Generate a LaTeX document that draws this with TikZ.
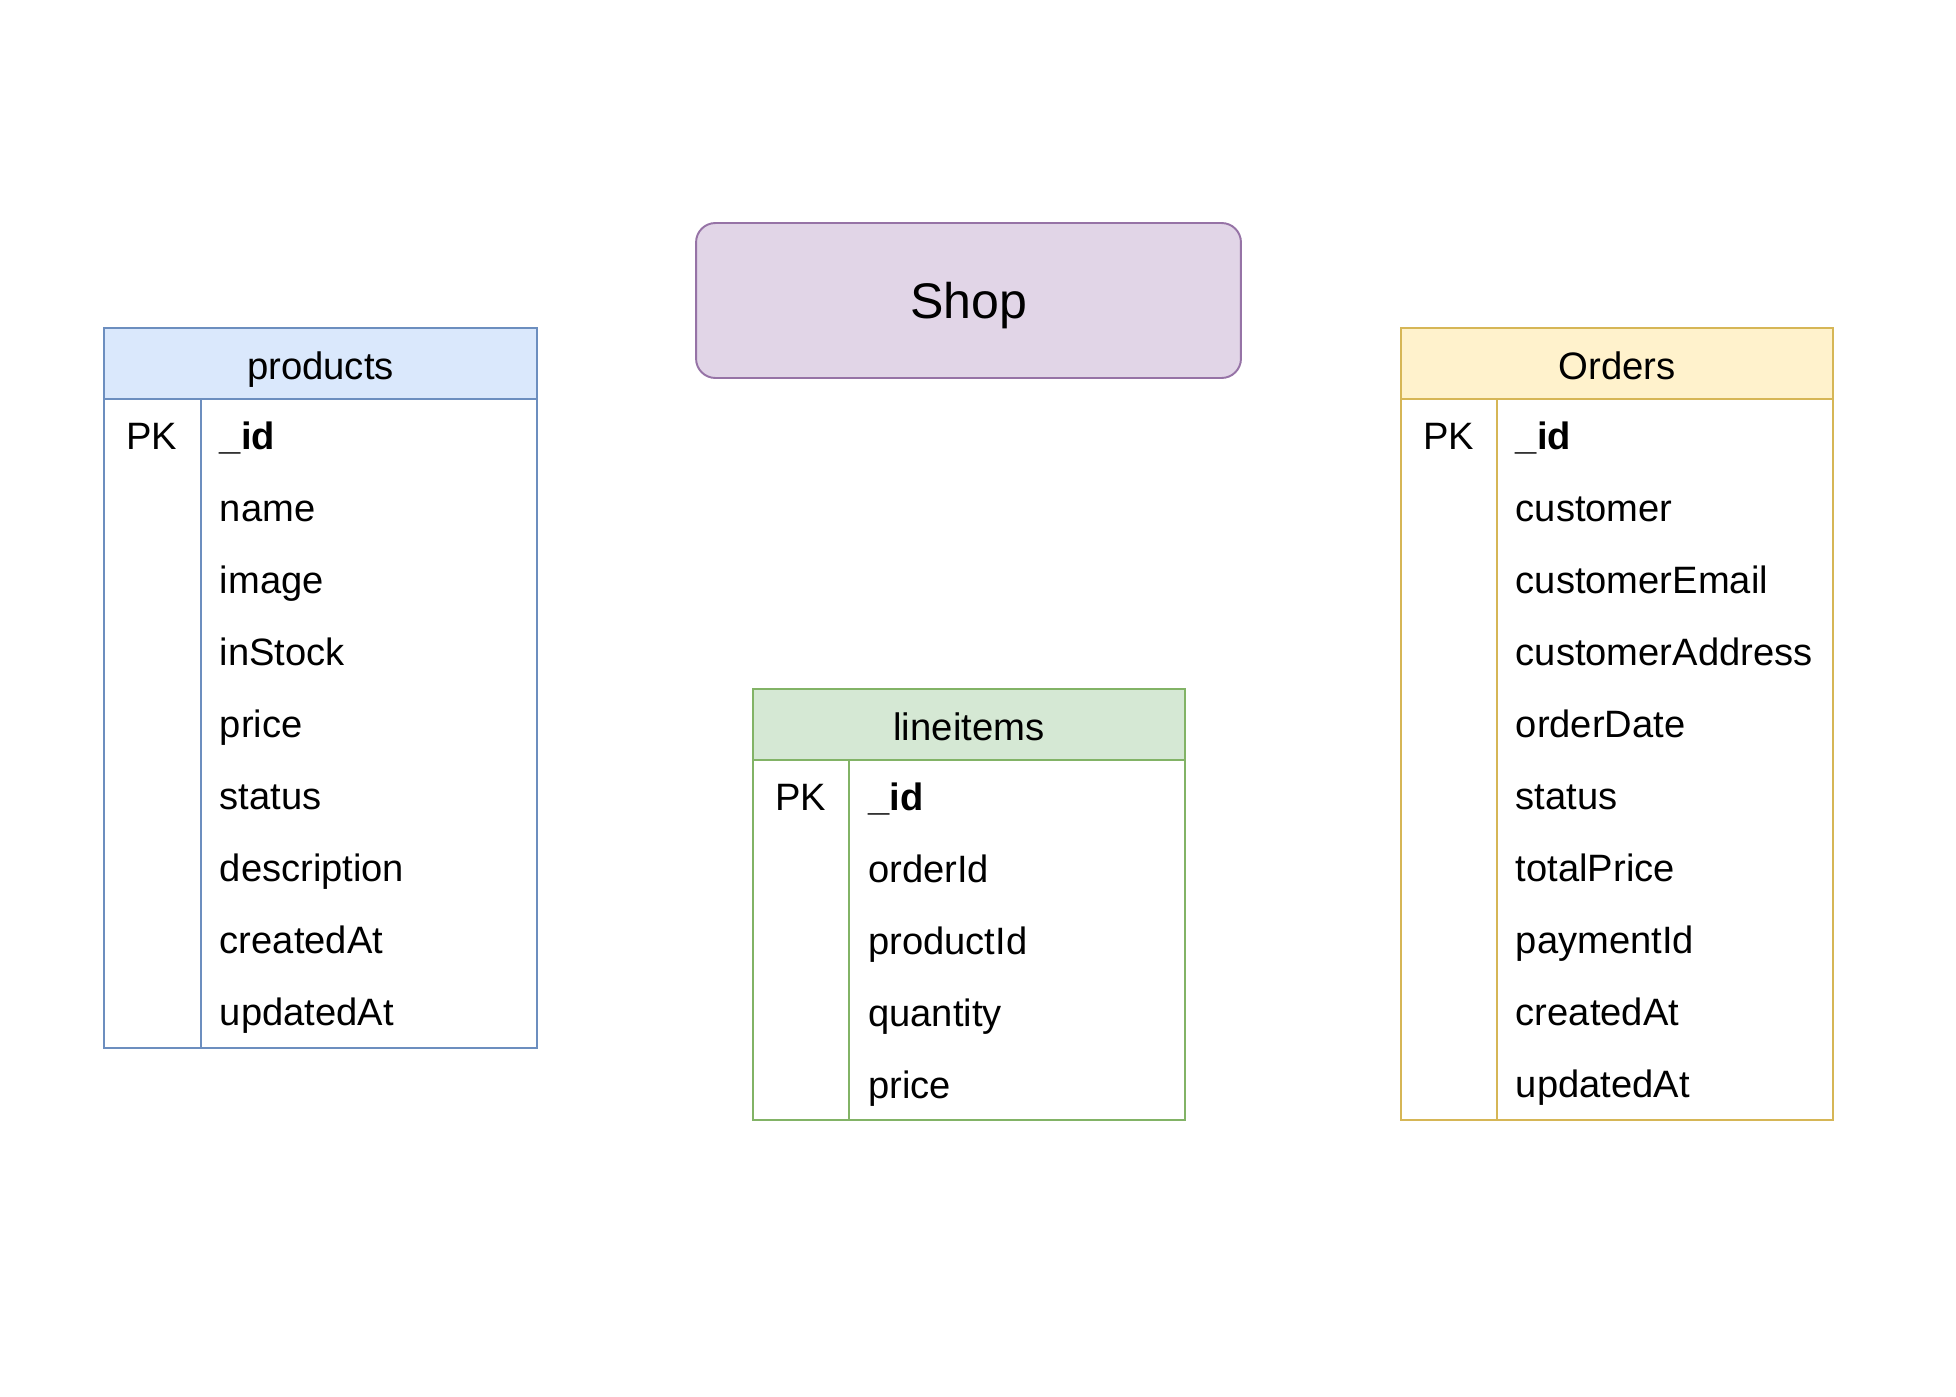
\documentclass[tikz,border=0pt]{standalone}
\usepackage{fontspec}
\setmainfont{Liberation Sans}
\usepackage{xcolor}
\usetikzlibrary{positioning}

\definecolor{prodFill}{HTML}{DAE8FC}
\definecolor{prodLine}{HTML}{6C8EBF}
\definecolor{itemFill}{HTML}{D5E8D4}
\definecolor{itemLine}{HTML}{82B366}
\definecolor{ordFill}{HTML}{FFF2CC}
\definecolor{ordLine}{HTML}{D6B656}
\definecolor{shopFill}{HTML}{E1D5E7}
\definecolor{shopLine}{HTML}{9673A6}

\tikzset{
  hdr/.style={draw, line width=1.1pt, inner sep=0pt, outer sep=0pt, anchor=north west,
    font=\fontsize{21.8}{26}\selectfont, text height=18pt, text depth=0pt},
  tblbody/.style={draw, line width=1.1pt, inner sep=0pt, outer sep=0pt, anchor=north west},
  fld/.style={inner sep=0pt, anchor=west,
    font=\fontsize{21.7}{26}\selectfont, text height=16pt, text depth=0pt},
}

\begin{document}
\begin{tikzpicture}[x=0.02cm,y=-0.02cm]
  \fill[white] (0,0) rectangle (1956,1396);
  \useasboundingbox (0,0) rectangle (1956,1396);

  % Shop title box
  \node[draw=shopLine, fill=shopFill, line width=1.1pt, rounded corners=11pt,
        minimum width=10.9cm, minimum height=3.1cm, inner sep=0pt,
        font=\fontsize{28.5}{33}\selectfont, text height=20.4pt, text depth=0pt]
        (shop) at (968.5,300.5) {Shop};

  % products table
  \node[hdr, draw=prodLine, fill=prodFill, minimum width=8.66cm, minimum height=1.42cm]
        (prodHead) at (104,328) {products};
  \node[tblbody, draw=prodLine, minimum width=8.66cm, minimum height=12.98cm]
        (prodBody) at (prodHead.south west) {};
  \coordinate (prodSplit) at (201,399);
  \draw[prodLine, line width=1.1pt] (prodSplit) -- (prodSplit |- prodBody.south);
  \node[fld] (prodPK) at (126,435) {PK};
  \node[fld] (prodId) at (219.5,435) {\textbf{\_id}};
  \foreach \f [count=\i] in {name,image,inStock,price,status,description,createdAt,updatedAt}
    \node[fld] (prodF\i) at (219.5,435+72*\i) {\f};

  % lineitems table
  \node[hdr, draw=itemLine, fill=itemFill, minimum width=8.64cm, minimum height=1.42cm]
        (itemHead) at (753,689) {lineitems};
  \node[tblbody, draw=itemLine, minimum width=8.64cm, minimum height=7.2cm]
        (itemBody) at (itemHead.south west) {};
  \coordinate (itemSplit) at (849,760);
  \draw[itemLine, line width=1.1pt] (itemSplit) -- (itemSplit |- itemBody.south);
  \node[fld] (itemPK) at (775,796) {PK};
  \node[fld] (itemId) at (868,796) {\textbf{\_id}};
  \foreach \f [count=\i] in {orderId,productId,quantity,price}
    \node[fld] (itemF\i) at (868,796+72*\i) {\f};

  % Orders table
  \node[hdr, draw=ordLine, fill=ordFill, minimum width=8.64cm, minimum height=1.42cm]
        (ordHead) at (1401,328) {Orders};
  \node[tblbody, draw=ordLine, minimum width=8.64cm, minimum height=14.42cm]
        (ordBody) at (ordHead.south west) {};
  \coordinate (ordSplit) at (1497,399);
  \draw[ordLine, line width=1.1pt] (ordSplit) -- (ordSplit |- ordBody.south);
  \node[fld] (ordPK) at (1423,435) {PK};
  \node[fld] (ordId) at (1515.5,435) {\textbf{\_id}};
  \foreach \f [count=\i] in {customer,customerEmail,customerAddress,orderDate,status,totalPrice,paymentId,createdAt,updatedAt}
    \node[fld] (ordF\i) at (1515.5,435+72*\i) {\f};
\end{tikzpicture}
\end{document}
